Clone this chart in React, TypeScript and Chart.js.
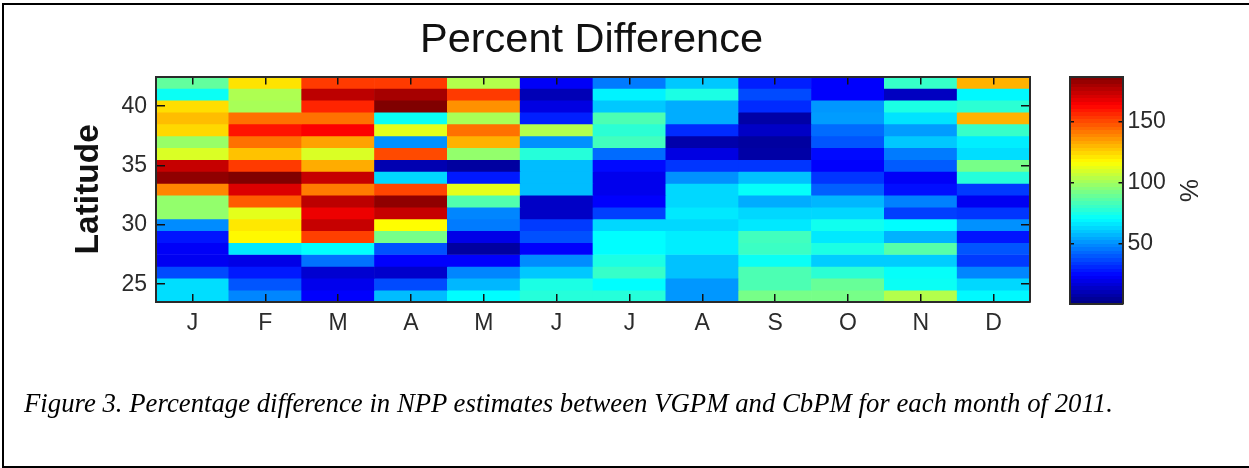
import React, { useEffect, useRef } from "react";
import { Chart, registerables } from "chart.js";

Chart.register(...registerables);

const months = ["J", "F", "M", "A", "M", "J", "J", "A", "S", "O", "N", "D"];
const latitudes = [42, 41, 40, 39, 38, 37, 36, 35, 34, 33, 32, 31, 30, 29, 28, 27, 26, 25, 24];
const latTicks = [25, 30, 35, 40];
const barTicks = [50, 100, 150];

// Percent difference, north to south, for each month
const jan = [88, 72, 123, 129, 124, 98, 110, 174, 184, 139, 97, 97, 49, 27, 22, 21, 37, 64, 64];
const feb = [122, 102, 101, 143, 160, 143, 128, 153, 187, 170, 147, 112, 121, 118, 66, 19, 28, 39, 48];
const mar = [153, 176, 157, 143, 164, 134, 110, 132, 174, 141, 176, 167, 174, 152, 70, 44, 15, 20, 23];
const apr = [153, 180, 187, 72, 112, 50, 150, 9, 63, 151, 184, 174, 117, 92, 38, 23, 14, 37, 58];
const may = [103, 153, 137, 101, 143, 131, 97, 6, 28, 112, 85, 48, 46, 19, 6, 23, 48, 57, 70];
const jun = [22, 10, 18, 29, 103, 50, 77, 58, 58, 58, 13, 13, 34, 38, 23, 49, 60, 75, 77];
const jul = [46, 68, 60, 84, 78, 82, 43, 25, 20, 20, 23, 35, 63, 70, 70, 75, 80, 70, 77];
const aug = [60, 75, 55, 55, 31, 8, 18, 33, 50, 63, 63, 66, 63, 67, 67, 59, 59, 51, 51];
const sep = [29, 37, 31, 7, 13, 6, 7, 33, 59, 71, 55, 63, 66, 82, 81, 72, 84, 84, 92];
const oct = [23, 23, 51, 52, 43, 39, 25, 23, 33, 41, 57, 63, 73, 66, 75, 61, 78, 89, 92];
const nov = [80, 12, 75, 65, 52, 60, 46, 40, 22, 26, 47, 35, 70, 56, 86, 61, 71, 72, 103];
const dec = [131, 69, 78, 131, 80, 67, 64, 92, 77, 34, 21, 33, 50, 27, 39, 34, 48, 63, 69];
const monthly = [jan, feb, mar, apr, may, jun, jul, aug, sep, oct, nov, dec];

const COLOR_MIN = 0;
const COLOR_MAX = 187;

const FONT = "'Liberation Sans', Arial, sans-serif";
const TEXT = "#2b2b2b";
const AXIS = "#2a2a2a";

function jet(t: number): string {
  const c = (x: number) => Math.round(255 * Math.max(0, Math.min(1, x)));
  const r = c(Math.min(4 * t - 1.5, -4 * t + 4.5));
  const g = c(Math.min(4 * t - 0.5, -4 * t + 3.5));
  const b = c(Math.min(4 * t + 0.5, -4 * t + 2.5));
  return `rgb(${r},${g},${b})`;
}

const colorOf = (v: number) => jet((v - COLOR_MIN) / (COLOR_MAX - COLOR_MIN));

export default function App() {
  const mainRef = useRef<HTMLCanvasElement>(null);
  const barRef = useRef<HTMLCanvasElement>(null);

  useEffect(() => {
    const inner = (length: number) => ({
      z: 1,
      drawOnChartArea: false,
      drawTicks: true,
      tickLength: -length,
      color: "#111",
      lineWidth: 1.5,
    });
    const border = { display: true, color: AXIS, width: 2, z: 2 };

    const main = new Chart(mainRef.current!, {
      type: "bar",
      data: {
        labels: months,
        datasets: latitudes.map((lat, r) => ({
          label: String(lat),
          data: monthly.map(() => [lat - 0.5, lat + 0.5]),
          backgroundColor: monthly.map((m) => colorOf(m[r])),
          borderWidth: 0,
          barPercentage: 1,
          categoryPercentage: 1,
          grouped: false,
        })),
      } as any,
      options: {
        responsive: false,
        animation: false,
        layout: { padding: { left: 0, right: 0, top: 0, bottom: 0 } },
        plugins: {
          legend: { display: false },
          tooltip: { enabled: false },
          title: {
            display: true,
            text: "Percent Difference",
            color: "#111",
            font: { family: FONT, size: 41.5, weight: "normal" },
            padding: { top: 16, bottom: 0 },
          },
        },
        scales: {
          x: {
            type: "category",
            position: "bottom",
            afterFit: (s: any) => { s.height = 166; },
            grid: { ...inner(8), offset: false },
            border,
            ticks: {
              color: TEXT,
              font: { family: FONT, size: 23 },
              padding: 16,
              maxRotation: 0,
              autoSkip: false,
            },
          },
          x2: {
            type: "category",
            labels: months,
            position: "top",
            afterFit: (s: any) => { s.height = 10.7; },
            grid: { ...inner(8), offset: false },
            border,
            ticks: { display: false, autoSkip: false },
          },
          y: {
            type: "linear",
            position: "left",
            min: 23.5,
            max: 42.5,
            afterFit: (s: any) => { s.width = 156; },
            afterBuildTicks: (s: any) => { s.ticks = latTicks.map((value) => ({ value })); },
            grid: inner(9),
            border,
            title: {
              display: true,
              text: "Latitude",
              color: "#111",
              font: { family: FONT, size: 33.5, weight: "bold" },
              padding: { top: 69, bottom: 8 },
            },
            ticks: { color: TEXT, font: { family: FONT, size: 23 }, padding: 18 },
          },
          y2: {
            type: "linear",
            position: "right",
            min: 23.5,
            max: 42.5,
            afterFit: (s: any) => { s.width = 153; },
            afterBuildTicks: (s: any) => { s.ticks = latTicks.map((value) => ({ value })); },
            grid: inner(9),
            border,
            ticks: { display: false },
          },
        },
      } as any,
    });

    const levels = Array.from({ length: 64 }, (_, i) => i);
    const bar = new Chart(barRef.current!, {
      type: "bar",
      data: {
        labels: ["%"],
        datasets: [
          {
            data: [[COLOR_MIN, COLOR_MAX]],
            borderWidth: 0,
            barPercentage: 1,
            categoryPercentage: 1,
            backgroundColor: (ctx: any) => {
              const { chartArea, ctx: c } = ctx.chart;
              if (!chartArea) return "#000";
              const g = c.createLinearGradient(0, chartArea.bottom, 0, chartArea.top);
              levels.forEach((i) => {
                const col = jet((i + 0.5) / 64);
                g.addColorStop(i / 64, col);
                g.addColorStop((i + 1) / 64, col);
              });
              return g;
            },
          },
        ],
      } as any,
      options: {
        responsive: false,
        animation: false,
        layout: { padding: 0 },
        plugins: { legend: { display: false }, tooltip: { enabled: false } },
        scales: {
          x: {
            type: "category",
            afterFit: (s: any) => { s.height = 12; },
            grid: { display: false },
            border,
            ticks: { display: false },
          },
          x2: {
            type: "category",
            labels: ["%"],
            position: "top",
            afterFit: (s: any) => { s.height = 20; },
            grid: { display: false },
            border,
            ticks: { display: false },
          },
          y: {
            type: "linear",
            position: "right",
            min: COLOR_MIN,
            max: COLOR_MAX,
            afterFit: (s: any) => { s.width = 80.5; },
            afterBuildTicks: (s: any) => { s.ticks = barTicks.map((value) => ({ value })); },
            grid: inner(4),
            border,
            title: {
              display: true,
              text: "%",
              color: TEXT,
              font: { family: FONT, size: 26 },
              padding: { top: 0, bottom: 0 },
            },
            ticks: { color: TEXT, font: { family: FONT, size: 23 }, padding: 9 },
          },
          y3: {
            type: "linear",
            position: "left",
            min: COLOR_MIN,
            max: COLOR_MAX,
            afterFit: (s: any) => { s.width = 10; },
            afterBuildTicks: (s: any) => { s.ticks = barTicks.map((value) => ({ value })); },
            grid: inner(4),
            border,
            ticks: { display: false },
          },
        },
      } as any,
    });

    return () => {
      main.destroy();
      bar.destroy();
    };
  }, []);

  return (
    <div
      style={{
        position: "fixed",
        left: 0,
        top: 0,
        width: 1249,
        height: 468,
        background: "#fff",
        overflow: "hidden",
      }}
    >
      <div
        style={{
          position: "absolute",
          left: 2,
          top: 3,
          width: 1260,
          height: 461,
          border: "2px solid #000",
          boxSizing: "content-box",
        }}
      />
      <canvas ref={mainRef} width={1183} height={468} style={{ position: "absolute", left: 0, top: 0 }} />
      <canvas ref={barRef} width={143} height={273} style={{ position: "absolute", left: 1060, top: 54 }} />
      <div
        style={{
          position: "absolute",
          left: 24,
          top: 388,
          whiteSpace: "nowrap",
          fontFamily: "'Liberation Serif', 'Times New Roman', serif",
          fontStyle: "italic",
          fontSize: 26.75,
          color: "#000",
        }}
      >
        Figure 3. Percentage difference in NPP estimates between VGPM and CbPM for each month of 2011.
      </div>
    </div>
  );
}
